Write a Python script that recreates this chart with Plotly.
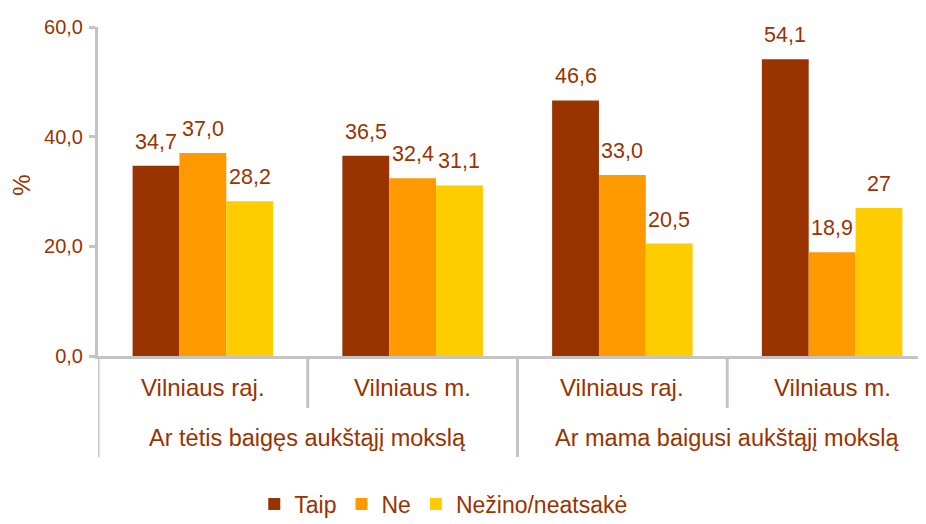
import plotly.graph_objects as go

# ---- data ----
groups = ["Ar tėtis baigęs aukštąjį mokslą", "Ar mama baigusi aukštąjį mokslą"]
places = ["Vilniaus raj.", "Vilniaus m.", "Vilniaus raj.", "Vilniaus m."]
series_names = ["Taip", "Ne", "Nežino/neatsakė"]
taip = [34.7, 36.5, 46.6, 54.1]
ne = [37.0, 32.4, 33.0, 18.9]
nezino = [28.2, 31.1, 20.5, 27]
y_ticks = [0, 20, 40, 60]

# ---- style ----
colors = ["#993300", "#FF9900", "#FFCC00"]
text_color = "#993300"
axis_gray = "#C4C4C4"
font_family = "Liberation Sans, Arial, sans-serif"
bargap = 0.33

def fmt(v):
    if isinstance(v, float):
        return f"{v:.1f}".replace(".", ",")
    return str(v)

xs = list(range(len(places)))
series = [taip, ne, nezino]

fig = go.Figure()
for name, vals, col in zip(series_names, series, colors):
    fig.add_trace(go.Bar(x=xs, y=vals, name=name, marker=dict(color=col, line=dict(width=0))))

# data labels
w = (1 - bargap) / len(series)
annotations = []
for j, vals in enumerate(series):
    for i, v in enumerate(vals):
        annotations.append(dict(
            x=xs[i] + (j - 1) * w, y=v, xref="x", yref="y",
            text=fmt(v), showarrow=False, yanchor="bottom", yshift=10,
            font=dict(size=21.5, color=text_color, family=font_family)))

# inner category labels
for i, p in enumerate(places):
    annotations.append(dict(x=xs[i], y=-0.097, xref="x", yref="paper", text=p,
                            showarrow=False, yanchor="middle",
                            font=dict(size=24, color=text_color, family=font_family)))
# outer group labels
for g, name in enumerate(groups):
    annotations.append(dict(x=2 * g + 0.5, y=-0.25, xref="x", yref="paper", text=name,
                            showarrow=False, yanchor="middle",
                            font=dict(size=23.5, color=text_color, family=font_family)))
# y axis title
annotations.append(dict(x=-0.092, y=0.52, xref="paper", yref="paper", text="%",
                        showarrow=False, textangle=-90, xanchor="center", yanchor="middle",
                        font=dict(size=24, color=text_color, family=font_family)))

# dividers
shapes = []
for k in range(len(places) + 1):
    xb = k - 0.5
    long_div = (k % 2 == 0)
    shapes.append(dict(type="line", xref="x", yref="paper", x0=xb, x1=xb,
                       y0=0, y1=-0.307 if long_div else -0.158,
                       line=dict(color=axis_gray, width=3)))

fig.update_layout(
    width=926, height=524,
    margin=dict(l=90, r=8, t=19, b=176, autoexpand=False),
    paper_bgcolor="white", plot_bgcolor="white",
    barmode="group", bargap=bargap, bargroupgap=0,
    separators=",.",
    font=dict(family=font_family, color=text_color),
    annotations=annotations, shapes=shapes,
    showlegend=True,
    legend=dict(orientation="h", x=0.417, xanchor="center", y=-0.515, yanchor="bottom",
                font=dict(size=23, color=text_color, family=font_family),
                itemwidth=30, traceorder="normal"),
)
fig.update_xaxes(range=[-0.5, -0.5 + 828 / 209.75], showticklabels=False, ticks="",
                 showline=True, linecolor=axis_gray, linewidth=3, showgrid=False,
                 zeroline=False, fixedrange=True)
fig.update_yaxes(range=[0, 60], tickvals=y_ticks, tickformat=".1f",
                 ticks="outside", ticklen=6, tickwidth=3, tickcolor=axis_gray,
                 showline=True, linecolor=axis_gray, linewidth=3, showgrid=False,
                 zeroline=False, ticklabelstandoff=2,
                 tickfont=dict(size=20, color=text_color, family=font_family))

fig.write_html("out.html")
